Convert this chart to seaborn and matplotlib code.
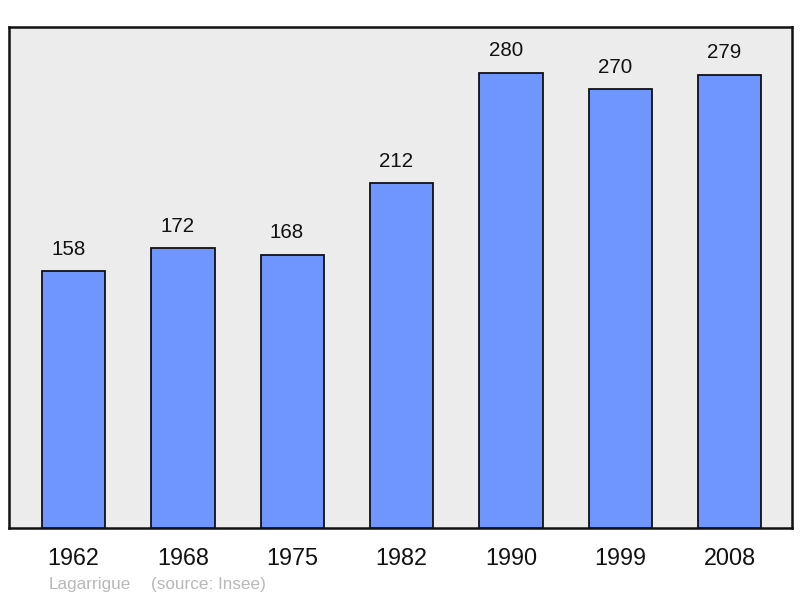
import matplotlib
matplotlib.use("Agg")
import matplotlib.pyplot as plt
import seaborn as sns
import pandas as pd

years = ["1962", "1968", "1975", "1982", "1990", "1999", "2008"]
population = [158, 172, 168, 212, 280, 270, 279]
commune = "Lagarrigue"
source = "(source: Insee)"

sns.set_style("white")
plt.rcParams["font.family"] = ["Liberation Sans", "DejaVu Sans"]

df = pd.DataFrame({"year": years, "pop": population})

fig = plt.figure(figsize=(8.0, 5.98), dpi=100)
ax = fig.add_axes([9 / 800, 70 / 598, 783 / 800, 501 / 598])
ax.set_facecolor("#ececec")

sns.barplot(data=df, x="year", y="pop", ax=ax, color="#6f96ff", saturation=1,
            width=0.58, edgecolor="#111111", linewidth=1.3, zorder=3)

for i, v in enumerate(population):
    ax.annotate(str(v), xy=(i, v), xytext=(-3.8, 9), textcoords="offset points",
                ha="center", va="bottom", fontsize=14.8, color="#111111")

ax.set_ylim(0, 308.3)
ax.set_xlim(-0.59, 6.57)
ax.set_xlabel("")
ax.set_ylabel("")
ax.set_yticks([])
ax.tick_params(axis="x", length=0, pad=13.5, labelsize=16.8, labelcolor="#111111")
for s in ax.spines.values():
    s.set_visible(True)
    s.set_color("#111111")
    s.set_linewidth(1.8)

fig.text(49 / 800, 1 - 584 / 598, commune, fontsize=12.3,
         color="#b8b8b8", ha="left", va="center")
fig.text(151 / 800, 1 - 584 / 598, source, fontsize=12.3,
         color="#b8b8b8", ha="left", va="center")

fig.savefig("out.png", dpi=100)
